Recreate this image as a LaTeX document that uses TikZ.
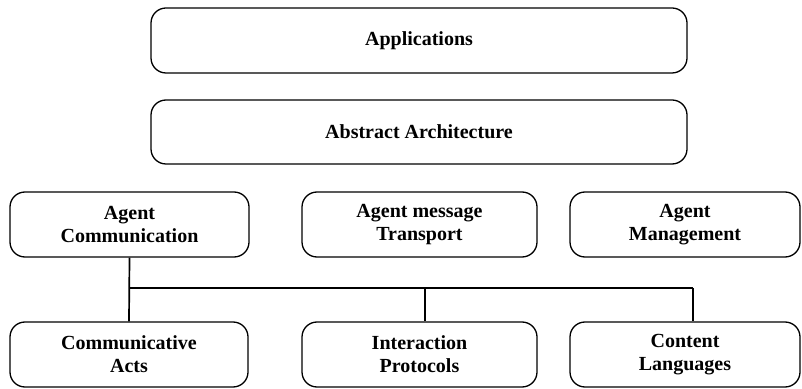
\documentclass[tikz,border=0pt]{standalone}
\usepackage{fontspec}
\setmainfont{Liberation Serif}
\begin{document}
\begin{tikzpicture}[x=1pt,y=1pt,
  blk/.style={draw=black, line width=1.3pt, rounded corners=15pt, align=center,
    font=\fontsize{20}{23}\selectfont\bfseries, inner sep=0pt},
  conn/.style={draw=black, line width=1.7pt}]
\useasboundingbox (0,0) rectangle (802,388);
\node[blk, minimum width=536pt, minimum height=65pt] (app) at (419,347.5) {Applications};
\node[blk, minimum width=536pt, minimum height=64pt] (abs) at (419,256) {Abstract Architecture};
\node[blk, minimum width=239pt, minimum height=65pt] (ac) at (129.5,163.5) {Agent\\Communication};
\node[blk, minimum width=235pt, minimum height=65pt] (amt) at (419.5,163.5) {Agent message\\Transport};
\node[blk, minimum width=230pt, minimum height=65pt] (am) at (685,163.5) {Agent\\Management};
\node[blk, minimum width=238pt, minimum height=65pt] (ca) at (129,33.5) {Communicative\\Acts};
\node[blk, minimum width=235pt, minimum height=65pt] (ip) at (419.5,33.5) {Interaction\\Protocols};
\node[blk, minimum width=230pt, minimum height=65pt] (cl) at (685,33.5) {Content\\Languages};
\coordinate (jL) at (130,100);
\coordinate (jM) at (425,100);
\coordinate (jR) at (693,100);
\draw[conn] (ac.south) -- (ca.north);
\draw[conn] (jL) -- (jR);
\draw[conn] (jM) -- (jM |- ip.north);
\draw[conn] (jR) -- (jR |- cl.north);
\end{tikzpicture}
\end{document}
